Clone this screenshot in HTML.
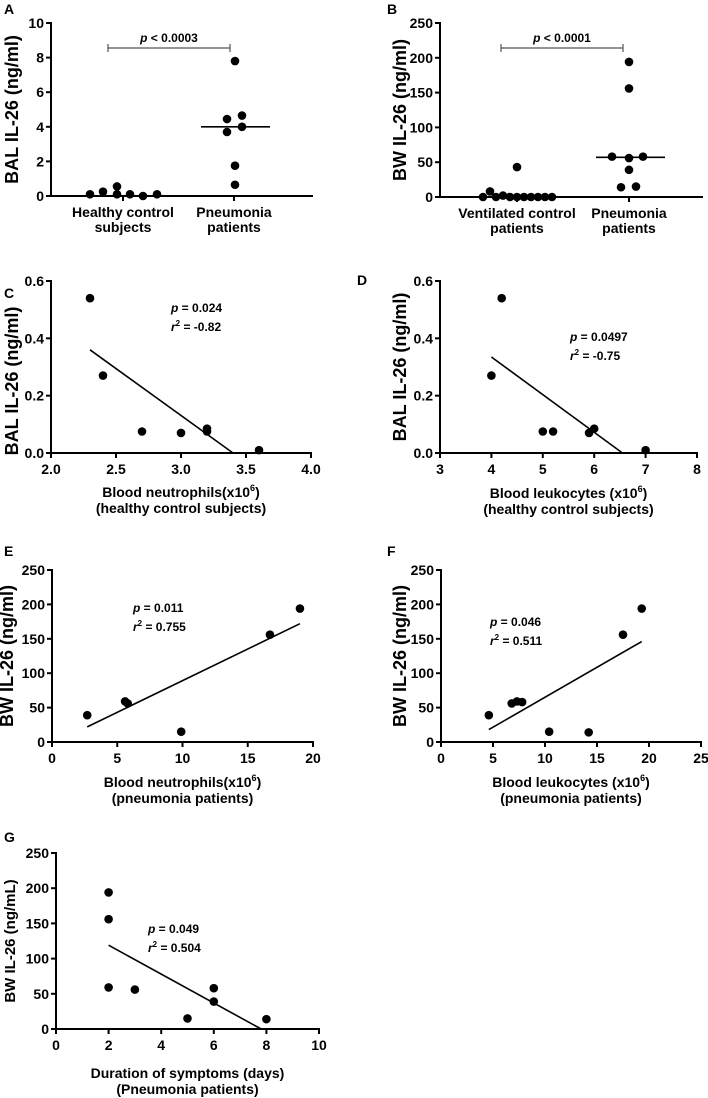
<!DOCTYPE html>
<html><head><meta charset="utf-8"><style>
body{margin:0;background:#fff;}
svg{display:block;font-family:"Liberation Sans",Arial,sans-serif;font-weight:bold;}
</style></head><body>
<svg id="fig" width="708" height="1098" viewBox="0 0 708 1098"></svg>
<script>
// Panel A data
const aHealthy=[0.1,0.25,0.55,0.1,0.1,0.0,0.1];
const aPneu=[7.8,4.45,4.65,3.7,4.0,1.75,0.65];
const aMedian=4.0;
// Panel B data
const bVent=[0,8,0,2,0,43,0,0,0,0,0,0];
const bPneu=[194,156,58,56,58,39,14,15];
const bMedian=57;
// Panel C
const cX=[2.3,2.4,2.7,3.0,3.2,3.2,3.6];
const cY=[0.54,0.27,0.075,0.07,0.085,0.075,0.01];
const cFit=[[2.3,0.36],[3.4,0]];
// Panel D
const dX=[4.2,4.0,5.0,5.2,5.9,6.0,7.0];
const dY=[0.54,0.27,0.075,0.075,0.07,0.085,0.01];
const dFit=[[4.0,0.335],[6.55,0]];
// Panel E
const eX=[2.7,5.6,5.8,9.9,16.7,19];
const eY=[39,59,56,15,156,194];
const eFit=[[2.7,22],[19,172]];
// Panel F
const fX=[4.6,6.8,7.3,7.8,10.4,14.2,17.5,19.3];
const fY=[39,56,59,58,15,14,156,194];
const fFit=[[4.6,18],[19.3,146]];
// Panel G
const gX=[2,2,2,3,5,6,6,8];
const gY=[194,156,59,56,15,58,39,14];
const gFit=[[2,119],[7.8,0]];

const NS="http://www.w3.org/2000/svg";
const svg=document.getElementById('fig');
function el(tag,attrs,parent,text){const e=document.createElementNS(NS,tag);for(const k in attrs)e.setAttribute(k,attrs[k]);if(text!==undefined)e.textContent=text;(parent||svg).appendChild(e);return e;}

function axes(g,o){
  const sy=v=>o.y0-(v-o.yMin)/(o.yMax-o.yMin)*(o.y0-o.y1);
  const sx=v=>o.x0+(v-o.xMin)/(o.xMax-o.xMin)*(o.x1-o.x0);
  const ya=el('line',{x1:o.x0,y1:o.y1-1,x2:o.x0,y2:o.y0+1,stroke:'#000','stroke-width':2},g);
  
  const xa=el('line',{x1:o.x0-1,y1:o.y0,x2:o.x1+1,y2:o.y0,stroke:'#000','stroke-width':2},g);
  
  o.yTicks.forEach((v,i)=>{
    el('line',{x1:o.x0-5,y1:sy(v),x2:o.x0,y2:sy(v),stroke:'#000','stroke-width':2},g);
    const t=el('text',{x:o.x0-7,y:sy(v)+5,'text-anchor':'end','font-size':14},g,o.yLabels[i]);
    
  });
  if(o.xTicks){o.xTicks.forEach((v,i)=>{
    el('line',{x1:sx(v),y1:o.y0,x2:sx(v),y2:o.y0+5,stroke:'#000','stroke-width':2},g);
    const t=el('text',{x:sx(v),y:o.y0+21,'text-anchor':'middle','font-size':14},g,o.xLabels[i]);
    
  });}
  const cy=(o.y0+o.y1)/2+(o.ytDy||0);
  const yt=el('text',{transform:`translate(${o.ytX},${cy}) rotate(-90)`,'text-anchor':'middle','font-size':o.ytSize||18},g,o.yTitle);
  
  return {sx,sy};
}
function dot(g,x,y){const c=el('circle',{cx:x,cy:y,r:4.3,fill:'#000'},g);}
function label(x,y,t){const e=el('text',{x:x,y:y,'font-size':14},svg,t);}
function stats(g,x,y,p,r){
  const t1=el('text',{x:x,y:y,'font-size':12},g);
  el('tspan',{'font-style':'italic'},t1,'p');el('tspan',{},t1,' = '+p);
  const t2=el('text',{x:x,y:y+19,'font-size':12},g);
  el('tspan',{'font-style':'italic'},t2,'r');el('tspan',{'font-size':8,dy:-5},t2,'2');el('tspan',{dy:5},t2,' = '+r);
}
function xtitle(g,cx,y,l1,sup,l1b,l2){
  const t=el('text',{x:cx,y:y,'text-anchor':'middle','font-size':14},g);
  el('tspan',{},t,l1);if(sup){el('tspan',{'font-size':9,dy:-6},t,sup);el('tspan',{dy:6},t,l1b);}
  const t2=el('text',{x:cx,y:y+16,'text-anchor':'middle','font-size':14},g,l2);
}
function scatter(name,o,X,Y,fit,st,xt){
  const g=el('g',{},svg);
  const a=axes(g,o);
  X.forEach((x,i)=>dot(g,a.sx(x),a.sy(Y[i])));
  const l=el('line',{x1:a.sx(fit[0][0]),y1:a.sy(fit[0][1]),x2:a.sx(fit[1][0]),y2:a.sy(fit[1][1]),stroke:'#000','stroke-width':1.6},g);
  
  stats(g,st[0],st[1],st[2],st[3]);
  xtitle(g,(o.x0+o.x1)/2,xt[0],xt[1],xt[2],xt[3],xt[4]);
}
function dotplot(name,o,groups,medians,cats,off,sig){
  const g=el('g',{},svg);
  const a=axes(g,o);
  cats.forEach((c,ci)=>{
    el('line',{x1:c.x,y1:o.y0,x2:c.x,y2:o.y0+5,stroke:'#000','stroke-width':2},g);
    const t=el('text',{x:c.x,y:o.y0+21,'text-anchor':'middle','font-size':14},g,c.l1);
    const t2=el('text',{x:c.x,y:o.y0+36,'text-anchor':'middle','font-size':14},g,c.l2);
    groups[ci].forEach((v,i)=>dot(g,c.x+off[ci][i],a.sy(v)));
  });
  medians.forEach((m,i)=>{if(m===null)return;const l=el('line',{x1:cats[i].x-33,y1:a.sy(m),x2:cats[i].x+36,y2:a.sy(m),stroke:'#000','stroke-width':1.6},g);});
  const sb=el('path',{d:`M${sig.x1},${sig.y-4}V${sig.y+4}M${sig.x1},${sig.y}H${sig.x2}M${sig.x2},${sig.y-4}V${sig.y+4}`,stroke:'#555','stroke-width':1.2,fill:'none'},g);
  
  const t=el('text',{x:(sig.x1+sig.x2)/2,y:sig.y-6,'text-anchor':'middle','font-size':12},g);
  el('tspan',{'font-style':'italic'},t,'p');el('tspan',{},t,' < '+sig.p);
}

label(4,14,'A');label(387,14,'B');label(4,298,'C');label(357,285,'D');label(4,556,'E');label(387,556,'F');label(4,842,'G');

dotplot('panel-a',{x0:51,x1:312,y0:196,y1:23,yMin:0,yMax:10,yTicks:[0,2,4,6,8,10],yLabels:['0','2','4','6','8','10'],ytX:18,yTitle:'BAL IL-26 (ng/ml)'},
 [aHealthy,aPneu],[null,aMedian],[{x:123,l1:'Healthy control',l2:'subjects'},{x:234,l1:'Pneumonia',l2:'patients'}],
 [[-33,-20,-6,-6,7,20,34],[1,-7,8,-7,8,1,1]],{x1:108,x2:230,y:48,p:'0.0003'});
dotplot('panel-b',{x0:440,x1:702,y0:197,y1:23,yMin:0,yMax:250,yTicks:[0,50,100,150,200,250],yLabels:['0','50','100','150','200','250'],ytX:406,yTitle:'BW IL-26 (ng/ml)'},
 [bVent,bPneu],[null,bMedian],[{x:517,l1:'Ventilated control',l2:'patients'},{x:629,l1:'Pneumonia',l2:'patients'}],
 [[-34,-27,-21,-14,-7,0,0,7,14,21,28,35],[0,0,-17,0,14,0,-8,7]],{x1:501,x2:623,y:48,p:'0.0001'});

scatter('panel-c',{x0:51,x1:311,y0:453,y1:281,yMin:0,yMax:0.6,yTicks:[0,0.2,0.4,0.6],yLabels:['0.0','0.2','0.4','0.6'],xMin:2,xMax:4,xTicks:[2,2.5,3,3.5,4],xLabels:['2.0','2.5','3.0','3.5','4.0'],ytX:18,ytDy:14,yTitle:'BAL IL-26 (ng/ml)'},
 cX,cY,cFit,[171,312,'0.024','-0.82'],[497,'Blood neutrophils(x10','6',')','(healthy control subjects)']);
scatter('panel-d',{x0:440,x1:697,y0:453,y1:281,yMin:0,yMax:0.6,yTicks:[0,0.2,0.4,0.6],yLabels:['0.0','0.2','0.4','0.6'],xMin:3,xMax:8,xTicks:[3,4,5,6,7,8],xLabels:['3','4','5','6','7','8'],ytX:406,yTitle:'BAL IL-26 (ng/ml)'},
 dX,dY,dFit,[570,341,'0.0497','-0.75'],[498,'Blood leukocytes (x10','6',')','(healthy control subjects)']);
scatter('panel-e',{x0:52,x1:313,y0:742,y1:570,yMin:0,yMax:250,yTicks:[0,50,100,150,200,250],yLabels:['0','50','100','150','200','250'],xMin:0,xMax:20,xTicks:[0,5,10,15,20],xLabels:['0','5','10','15','20'],ytX:13,yTitle:'BW IL-26 (ng/ml)'},
 eX,eY,eFit,[133,612,'0.011','0.755'],[787,'Blood neutrophils(x10','6',')','(pneumonia patients)']);
scatter('panel-f',{x0:441,x1:701,y0:742,y1:570,yMin:0,yMax:250,yTicks:[0,50,100,150,200,250],yLabels:['0','50','100','150','200','250'],xMin:0,xMax:25,xTicks:[0,5,10,15,20,25],xLabels:['0','5','10','15','20','25'],ytX:406,yTitle:'BW IL-26 (ng/ml)'},
 fX,fY,fFit,[490,626,'0.046','0.511'],[787,'Blood leukocytes (x10','6',')','(pneumonia patients)']);
scatter('panel-g',{x0:56,x1:319,y0:1029,y1:853,yMin:0,yMax:250,yTicks:[0,50,100,150,200,250],yLabels:['0','50','100','150','200','250'],xMin:0,xMax:10,xTicks:[0,2,4,6,8,10],xLabels:['0','2','4','6','8','10'],ytX:15,ytSize:15,yTitle:'BW IL-26 (ng/mL)'},
 gX,gY,gFit,[148,933,'0.049','0.504'],[1078,'Duration of symptoms (days)',null,null,'(Pneumonia patients)']);
</script>
</body></html>
